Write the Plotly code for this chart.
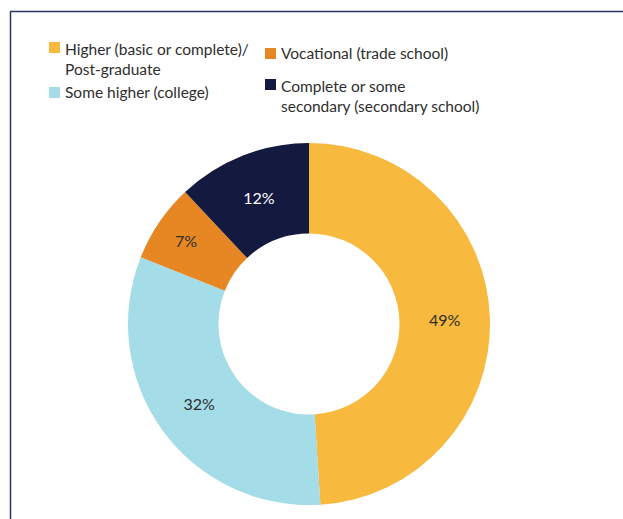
import plotly.graph_objects as go

# Education level shares (clockwise from 12 o'clock)
categories = [
    "Higher (basic or complete)/<br>Post-graduate",
    "Some higher (college)",
    "Vocational (trade school)",
    "Complete or some<br>secondary (secondary school)",
]
shares = [49, 32, 7, 12]
colors = ["#F7B93E", "#A4DCE8", "#E78724", "#141940"]
label_colors = ["#2E2E2E", "#2E2E2E", "#2E2E2E", "#FFFFFF"]

W, H = 623, 519
FONT = "Lato"


def px(x):
    return x / W


def py(y):
    return 1 - y / H


fig = go.Figure(
    go.Pie(
        values=shares,
        labels=categories,
        hole=0.5,
        sort=False,
        direction="clockwise",
        rotation=0,
        marker=dict(colors=colors, line=dict(width=0)),
        texttemplate="%{value}%",
        textposition="inside",
        insidetextorientation="horizontal",
        insidetextfont=dict(family=FONT, size=16, color=label_colors),
        domain=dict(x=[px(128), px(490)], y=[py(505), py(143)]),
        showlegend=False,
        hoverinfo="label+percent",
    )
)

# Hand-placed two-column key above the donut
key_layout = [
    # (marker left x, marker top y, text x, text centre y)
    (49, 42, 63, 59),
    (49, 87, 63, 92),
    (265, 48, 279, 53),
    (265, 79, 279, 96),
]
shapes = []
annotations = []
for (mx, my, tx, ty), name, col in zip(key_layout, categories, colors):
    shapes.append(dict(
        type="rect", xref="paper", yref="paper",
        x0=px(mx), x1=px(mx + 11), y0=py(my + 11), y1=py(my),
        fillcolor=col, line=dict(width=0),
    ))
    annotations.append(dict(
        xref="paper", yref="paper", x=px(tx), y=py(ty),
        xanchor="left", yanchor="middle", align="left",
        text=name, showarrow=False,
        font=dict(family=FONT, size=15.5, color="#2E2E2E"),
    ))

# Frame lines along the top and left edges
frame = "#2B3564"
shapes.append(dict(type="line", xref="paper", yref="paper",
                   x0=px(10), x1=1, y0=py(11.5), y1=py(11.5),
                   line=dict(color=frame, width=1.5)))
shapes.append(dict(type="line", xref="paper", yref="paper",
                   x0=px(10.5), x1=px(10.5), y0=0, y1=py(11.5),
                   line=dict(color=frame, width=1.5)))

fig.update_layout(
    width=W, height=H,
    margin=dict(l=0, r=0, t=0, b=0),
    paper_bgcolor="white",
    plot_bgcolor="white",
    shapes=shapes,
    annotations=annotations,
)

fig.write_html("out.html")
